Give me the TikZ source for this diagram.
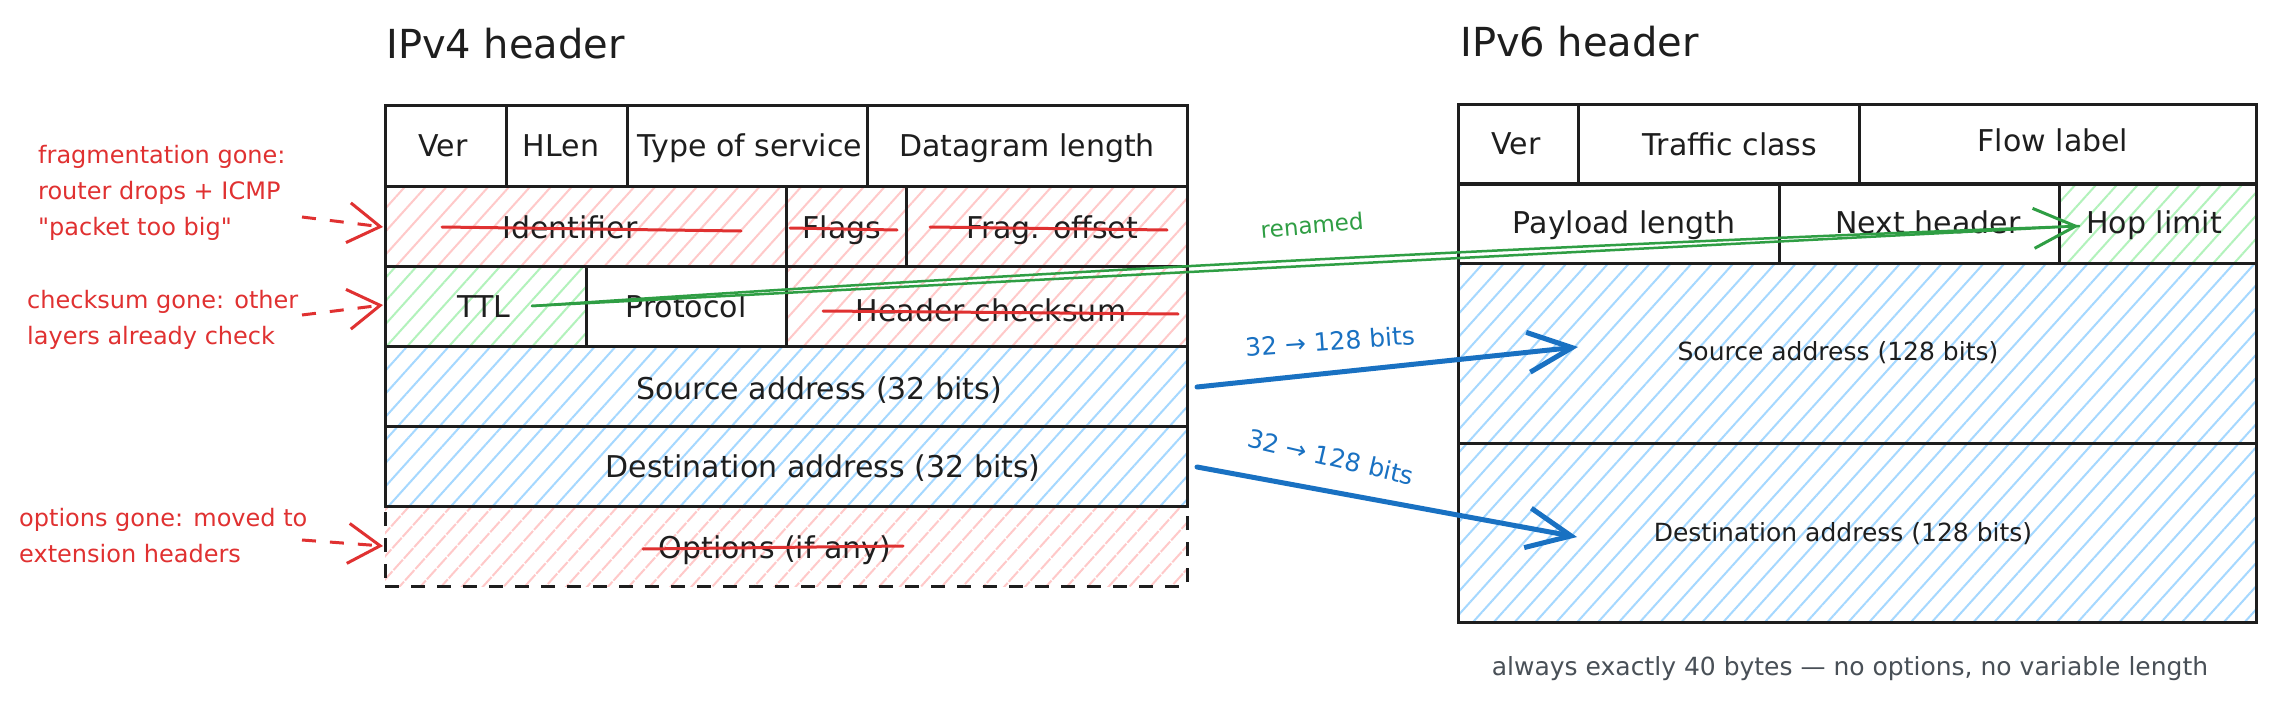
\documentclass[tikz,border=0pt]{standalone}
\usepackage{fontspec}
\setmainfont{DejaVu Sans}[Ligatures=TeXOff]
\usetikzlibrary{patterns.meta,arrows.meta,calc}
\definecolor{ink}{HTML}{1E1E1E}
\definecolor{redink}{HTML}{E03131}
\definecolor{greenink}{HTML}{2F9E44}
\definecolor{blueink}{HTML}{1971C2}
\definecolor{hatchred}{HTML}{FFC9C9}
\definecolor{hatchgreen}{HTML}{B2F2BB}
\definecolor{hatchblue}{HTML}{A5D8FF}
\definecolor{footgray}{HTML}{495057}
\tikzset{
  cellbox/.style={draw=ink, line width=3pt, inner sep=0pt, outer sep=0pt, anchor=north west},
  hatch/.style={pattern={Lines[angle=48,distance=15.5pt,line width=2pt]}},
  hred/.style={hatch, pattern color=hatchred},
  hgreen/.style={hatch, pattern color=hatchgreen},
  hblue/.style={hatch, pattern color=hatchblue},
  dashcell/.style={dash pattern=on 14pt off 12pt},
  ct/.style={font=\fontsize{30}{36}\selectfont, text=ink, inner sep=0pt, text height=22pt, text depth=0pt},
  cts/.style={font=\fontsize{25}{30}\selectfont, text=ink, inner sep=0pt, text height=18pt, text depth=0pt},
  title/.style={font=\fontsize{40}{48}\selectfont, text=ink, inner sep=0pt, anchor=base west},
  note/.style={font=\fontsize{24}{33}\selectfont, text=redink, align=left, inner sep=0pt, anchor=base west},
  strike/.style={draw=redink, line width=3pt, line cap=round},
  redarrow/.style={draw=redink, line width=3pt, dash pattern=on 14pt off 14pt, -{Straight Barb[length=32pt,width=40pt,line width=3pt]}},
  greenarrow/.style={draw=greenink, line width=2.5pt, line cap=round, -{Straight Barb[length=42pt,width=40pt,line width=3pt]}},
  greenline/.style={draw=greenink, line width=2.5pt, line cap=round},
  bluearrow/.style={draw=blueink, line width=5pt, line cap=round, -{Straight Barb[length=44pt,width=40pt,line width=5pt]}},
  bluelabel/.style={font=\fontsize{25}{30}\selectfont, text=blueink, inner sep=0pt},
  greenlabel/.style={font=\fontsize{23}{27}\selectfont, text=greenink, inner sep=0pt},
  foot/.style={font=\fontsize{25}{30}\selectfont, text=footgray, inner sep=0pt, anchor=base}
}
\newcommand{\mkcell}[6][]{\node[cellbox,#1,minimum width={#5-#3},minimum height={#6-#4}] (#2) at (#3,#4) {};}
\begin{document}
\begin{tikzpicture}[x=1pt,y=-1pt]
\useasboundingbox (0,0) rectangle (2279,706);
\fill[white] (0,0) rectangle (2279,706);

% titles
\node[title] (t4) at (386,59) {IPv4 header};
\node[title] (t6) at (1460,57) {IPv6 header};

% IPv4 cells
\mkcell[hred,dashcell]{opt}{385}{506}{1187}{586}
\mkcell{ver4}{385}{106}{506}{186}
\mkcell{hlen}{506}{106}{627}{186}
\mkcell{tos}{627}{106}{867}{186}
\mkcell{dlen}{867}{106}{1187}{186}
\mkcell[hred]{ident}{385}{186}{786}{266}
\mkcell[hred]{flags}{786}{186}{906}{266}
\mkcell[hred]{frag}{906}{186}{1187}{266}
\mkcell[hgreen]{ttl}{385}{266}{586}{346}
\mkcell{proto}{586}{266}{786}{346}
\mkcell[hred]{hcs}{786}{266}{1187}{346}
\mkcell[hblue]{src4}{385}{346}{1187}{426}
\mkcell[hblue]{dst4}{385}{426}{1187}{506}

% IPv6 cells
\mkcell{ver6}{1458}{105}{1578}{184}
\mkcell{tc}{1578}{105}{1859}{184}
\mkcell{flow}{1859}{105}{2256}{184}
\mkcell{plen}{1458}{184}{1779}{263}
\mkcell{nh}{1779}{184}{2059}{263}
\mkcell[hgreen]{hop}{2059}{184}{2256}{263}
\mkcell[hblue]{src6}{1458}{263}{2256}{443}
\mkcell[hblue]{dst6}{1458}{443}{2256}{622}

% IPv4 texts
\node[ct] (tver4) at (443,146) {Ver};
\node[ct] (thlen) at (561,146) {HLen};
\node[ct] (ttos) at (750,146) {Type of service};
\node[ct] (tdlen) at (1027,146) {Datagram length};
\node[ct] (tident) at (570,227) {Identifier};
\node[ct] (tflags) at (842,227) {Flags};
\node[ct] (tfrag) at (1052,227) {Frag. offset};
\node[ct] (tttl) at (484,306) {TTL};
\node[ct] (tproto) at (686,306) {Protocol};
\node[ct] (thcs) at (991,310) {Header checksum};
\node[ct] (tsrc4) at (819,388) {Source address (32 bits)};
\node[ct] (tdst4) at (823,466) {Destination address (32 bits)};
\node[ct] (topt) at (775,547) {Options (if any)};

% IPv6 texts
\node[ct] (tver6) at (1516,143) {Ver};
\node[ct] (ttc) at (1730,145) {Traffic class};
\node[ct] (tflow) at (2053,141) {Flow label};
\node[ct] (tplen) at (1624,222) {Payload length};
\node[ct] (tnh) at (1928,222) {Next header};
\node[ct] (thop) at (2154,222) {Hop limit};
\node[cts] (tsrc6) at (1838,351) {Source address (128 bits)};
\node[cts] (tdst6) at (1843,532) {Destination address (128 bits)};

% strike-throughs
\draw[strike] (442,227) -- (741,231);
\draw[strike] (790,228) -- (897,230);
\draw[strike] (930,227) -- (1167,230);
\draw[strike] (823,311) -- (1178,314);
\draw[strike] (643,549) -- (903,546);

% annotations
\node[note] (n1) at (38,235) {fragmentation gone:\\[3pt]router drops + ICMP\\[3pt]"packet too big"};
\node[note] (n2) at (27,344) {checksum gone: other\\[3pt]layers already check};
\node[note] (n3) at (19,562) {options gone: moved to\\[3pt]extension headers};
\coordinate (a1s) at (302,217); \coordinate (a1e) at (383,227);
\coordinate (a2s) at (302,315); \coordinate (a2e) at (383,305);
\coordinate (a3s) at (302,540); \coordinate (a3e) at (383,546);
\draw[redarrow] (a1s) -- (a1e);
\draw[redarrow] (a2s) -- (a2e);
\draw[redarrow] (a3s) -- (a3e);

% renamed arrow
\coordinate (gs) at (532,306);
\coordinate (ge) at (2079,226);
\coordinate (gc1) at (1048,271);
\coordinate (gc2) at (1563,245);
\draw[greenline] (gs) .. controls (gc1) and (gc2) .. (ge);
\draw[greenarrow] (gs) -- (ge);
\node[greenlabel, rotate=5] (lren) at (1312,225) {renamed};

% address arrows
\coordinate (b1s) at (1197,387); \coordinate (b1e) at (1578,347);
\coordinate (b2s) at (1197,467); \coordinate (b2e) at (1577,537);
\draw[bluearrow] (b1s) -- (b1e);
\draw[bluearrow] (b2s) -- (b2e);
\node[bluelabel, rotate=4] (l1) at (1330,341) {32 → 128 bits};
\node[bluelabel, rotate=-13] (l2) at (1331,457) {32 → 128 bits};

% footer
\node[foot] (ft) at (1850,675) {always exactly 40 bytes — no options, no variable length};
\end{tikzpicture}
\end{document}
